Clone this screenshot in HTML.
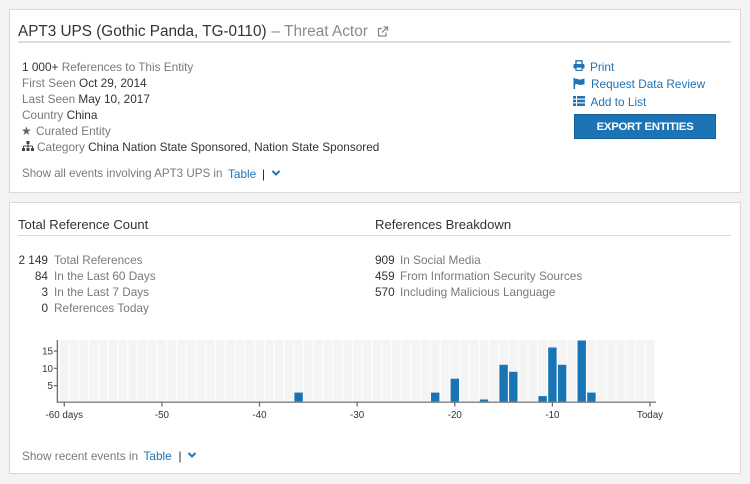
<!DOCTYPE html>
<html><head><meta charset="utf-8">
<style>
html,body{margin:0;padding:0;}
body{width:750px;height:484px;background:#f3f3f3;position:relative;overflow:hidden;font-family:"Liberation Sans",Arial,sans-serif;color:#333;}
.panel{position:absolute;background:#fff;border:1px solid #d9d9d9;box-sizing:border-box;}
.t{position:absolute;white-space:nowrap;font-size:11.8px;line-height:16px;}
.g{color:#7a7a7a;}
.d{color:#333;}
.b{color:#2273b3;}
.line{position:absolute;height:1px;background:#dadada;}
.r{text-align:right;}
</style></head><body>

<div class="panel" style="left:9px;top:9px;width:732px;height:184px;"></div>
<div class="panel" style="left:9px;top:202px;width:732px;height:272px;"></div>

<!-- Title -->
<div class="t d" style="left:18px;top:22.3px;font-size:15.3px;line-height:20px;">APT3 UPS (Gothic Panda, TG-0110)</div>
<div class="t g" style="left:271.5px;top:22.3px;font-size:15.4px;line-height:20px;color:#8a8a8a;">– Threat Actor</div>
<svg style="position:absolute;left:377px;top:26px" width="12" height="11" viewBox="0 0 12 11">
  <path d="M5 2.5H1.5v7.5h7.5V6.5" fill="none" stroke="#8a8a8a" stroke-width="1.3"/>
  <path d="M6.5 1h4v4M10.5 1L5 6.5" fill="none" stroke="#8a8a8a" stroke-width="1.3"/>
</svg>
<div class="line" style="left:18px;top:41px;width:713px;height:1.5px;background:#dedede;"></div>

<!-- Info lines -->
<div class="t" style="left:22px;top:59px;"><span class="d">1 000+</span> <span class="g">References to This Entity</span></div>
<div class="t" style="left:22px;top:75px;"><span class="g">First Seen</span> <span class="d">Oct 29, 2014</span></div>
<div class="t" style="left:22px;top:91px;"><span class="g">Last Seen</span> <span class="d">May 10, 2017</span></div>
<div class="t" style="left:22px;top:107px;"><span class="g">Country</span> <span class="d">China</span></div>
<div class="t g" style="left:21px;top:123px;font-size:12px;color:#666;">★</div>
<div class="t g" style="left:36px;top:123px;">Curated Entity</div>
<svg style="position:absolute;left:22px;top:141px" width="12" height="10" viewBox="0 0 12 10">
  <rect x="4.5" y="0" width="3" height="3" fill="#444"/>
  <path d="M6 3v2M1.5 5h9M1.5 5v2M6 5v2M10.5 5v2" stroke="#444" stroke-width="1" fill="none"/>
  <rect x="0" y="7" width="3" height="3" fill="#444"/>
  <rect x="4.5" y="7" width="3" height="3" fill="#444"/>
  <rect x="9" y="7" width="3" height="3" fill="#444"/>
</svg>
<div class="t" style="left:37px;top:139px;"><span class="g">Category</span> <span class="d">China Nation State Sponsored, Nation State Sponsored</span></div>

<div class="t g" style="left:22px;top:166px;font-size:11.6px;">Show all events involving APT3 UPS in</div>
<div class="t b" style="left:228px;top:166px;">Table</div>
<div class="t d" style="left:262px;top:166px;color:#222;">|</div>
<svg style="position:absolute;left:271px;top:169px" width="10" height="8" viewBox="0 0 10 8">
  <path d="M1.5 2l3.5 3.5L8.5 2" fill="none" stroke="#2273b3" stroke-width="2"/>
</svg>

<!-- Right actions -->
<svg style="position:absolute;left:573px;top:60px" width="12" height="11" viewBox="0 0 12 11">
  <path d="M3 4V0.8h6V4" fill="none" stroke="#2273b3" stroke-width="1.4"/>
  <rect x="0.5" y="4" width="11" height="4.5" rx="1" fill="#2273b3"/>
  <rect x="3" y="7" width="6" height="3.5" fill="#fff" stroke="#2273b3" stroke-width="1.2"/>
</svg>
<div class="t b" style="left:590px;top:58.5px;">Print</div>
<svg style="position:absolute;left:573px;top:78px" width="12" height="11" viewBox="0 0 12 11">
  <rect x="0.5" y="0" width="1.6" height="11" fill="#2273b3"/>
  <path d="M2 1c2-1 3.5 1 5.5 0.5S10 0.5 11.5 0.8V6.5C10 6.2 9.5 7 7.5 7S4 5.5 2 6.5z" fill="#2273b3"/>
</svg>
<div class="t b" style="left:591px;top:76.3px;">Request Data Review</div>
<svg style="position:absolute;left:573px;top:96px" width="12" height="10" viewBox="0 0 12 10">
  <rect x="0" y="0" width="3" height="2.6" fill="#2273b3"/><rect x="4" y="0" width="8" height="2.6" fill="#2273b3"/>
  <rect x="0" y="3.7" width="3" height="2.6" fill="#2273b3"/><rect x="4" y="3.7" width="8" height="2.6" fill="#2273b3"/>
  <rect x="0" y="7.4" width="3" height="2.6" fill="#2273b3"/><rect x="4" y="7.4" width="8" height="2.6" fill="#2273b3"/>
</svg>
<div class="t b" style="left:590.5px;top:94px;">Add to List</div>
<div style="position:absolute;left:574px;top:114px;width:142px;height:25px;box-sizing:border-box;background:#1c74b6;border:1px solid #1a5f94;color:#fff;font-weight:bold;font-size:11.4px;letter-spacing:-0.3px;line-height:25px;text-align:center;">EXPORT ENTITIES</div>

<!-- Panel 2 -->
<div class="t d" style="left:18px;top:217px;font-size:13.1px;">Total Reference Count</div>
<div class="t d" style="left:375px;top:217px;font-size:13.1px;">References Breakdown</div>
<div class="line" style="left:18px;top:235px;width:713px;"></div>

<div class="t d r" style="left:8px;width:40px;top:251.7px;">2 149</div>
<div class="t g" style="left:54px;top:251.7px;">Total References</div>
<div class="t d r" style="left:8px;width:40px;top:267.7px;">84</div>
<div class="t g" style="left:54px;top:267.7px;">In the Last 60 Days</div>
<div class="t d r" style="left:8px;width:40px;top:283.7px;">3</div>
<div class="t g" style="left:54px;top:283.7px;">In the Last 7 Days</div>
<div class="t d r" style="left:8px;width:40px;top:299.5px;">0</div>
<div class="t g" style="left:54px;top:299.5px;">References Today</div>

<div class="t d" style="left:375px;top:251.7px;">909</div>
<div class="t g" style="left:400px;top:251.7px;">In Social Media</div>
<div class="t d" style="left:375px;top:267.7px;">459</div>
<div class="t g" style="left:400px;top:267.7px;">From Information Security Sources</div>
<div class="t d" style="left:375px;top:283.7px;">570</div>
<div class="t g" style="left:400px;top:283.7px;">Including Malicious Language</div>

<!-- Chart -->
<svg style="position:absolute;left:0;top:0" width="750" height="484" viewBox="0 0 750 484">
  <rect x="57.5" y="340" width="597.4" height="61.5" fill="#f4f4f4"/>
  <path stroke="#ffffff" stroke-width="1" fill="none" d="M59.4 340V401.5M69.2 340V401.5M78.9 340V401.5M88.7 340V401.5M98.5 340V401.5M108.2 340V401.5M118.0 340V401.5M127.8 340V401.5M137.5 340V401.5M147.3 340V401.5M157.0 340V401.5M166.8 340V401.5M176.6 340V401.5M186.3 340V401.5M196.1 340V401.5M205.9 340V401.5M215.6 340V401.5M225.4 340V401.5M235.1 340V401.5M244.9 340V401.5M254.7 340V401.5M264.4 340V401.5M274.2 340V401.5M284.0 340V401.5M293.7 340V401.5M303.5 340V401.5M313.2 340V401.5M323.0 340V401.5M332.8 340V401.5M342.5 340V401.5M352.3 340V401.5M362.1 340V401.5M371.8 340V401.5M381.6 340V401.5M391.3 340V401.5M401.1 340V401.5M410.9 340V401.5M420.6 340V401.5M430.4 340V401.5M440.2 340V401.5M449.9 340V401.5M459.7 340V401.5M469.4 340V401.5M479.2 340V401.5M489.0 340V401.5M498.7 340V401.5M508.5 340V401.5M518.3 340V401.5M528.0 340V401.5M537.8 340V401.5M547.5 340V401.5M557.3 340V401.5M567.1 340V401.5M576.8 340V401.5M586.6 340V401.5M596.4 340V401.5M606.1 340V401.5M615.9 340V401.5M625.6 340V401.5M635.4 340V401.5M645.2 340V401.5"/>
  <g fill="#1874b5">
    <rect x="294.4" y="392.6" width="8.4" height="8.9"/>
    <rect x="431.0" y="392.6" width="8.4" height="8.9"/>
    <rect x="450.6" y="378.7" width="8.4" height="22.8"/>
    <rect x="479.8" y="399.5" width="8.4" height="2"/>
    <rect x="499.4" y="364.8" width="8.4" height="36.7"/>
    <rect x="509.1" y="371.8" width="8.4" height="29.7"/>
    <rect x="538.4" y="396.1" width="8.4" height="5.4"/>
    <rect x="548.2" y="347.5" width="8.4" height="54"/>
    <rect x="557.9" y="364.8" width="8.4" height="36.7"/>
    <rect x="577.5" y="340.5" width="8.4" height="61"/>
    <rect x="587.2" y="392.6" width="8.4" height="8.9"/>
  </g>
  <g stroke="#666" stroke-width="1.2" fill="none">
    <path d="M57.3 340V402.2H656"/>
    <path d="M54 351H57.3M54 368.3H57.3M54 385.6H57.3"/>
    <path d="M64.3 402V406.5M161.9 402V406.5M259.5 402V406.5M357.1 402V406.5M454.8 402V406.5M552.4 402V406.5M650 402V406.5"/>
  </g>
  <g font-family="Liberation Sans, Arial, sans-serif" font-size="9.8" fill="#333">
    <text x="53" y="354.5" text-anchor="end">15</text>
    <text x="53" y="371.8" text-anchor="end">10</text>
    <text x="53" y="389.1" text-anchor="end">5</text>
    <text x="64.3" y="417.8" text-anchor="middle">-60 days</text>
    <text x="161.9" y="417.8" text-anchor="middle">-50</text>
    <text x="259.5" y="417.8" text-anchor="middle">-40</text>
    <text x="357.1" y="417.8" text-anchor="middle">-30</text>
    <text x="454.8" y="417.8" text-anchor="middle">-20</text>
    <text x="552.4" y="417.8" text-anchor="middle">-10</text>
    <text x="650" y="417.8" text-anchor="middle">Today</text>
  </g>
</svg>

<div class="t g" style="left:22px;top:447.5px;">Show recent events in</div>
<div class="t b" style="left:143.5px;top:447.5px;">Table</div>
<div class="t d" style="left:178.5px;top:447.5px;color:#222;">|</div>
<svg style="position:absolute;left:187px;top:451px" width="10" height="8" viewBox="0 0 10 8">
  <path d="M1.5 2l3.5 3.5L8.5 2" fill="none" stroke="#2273b3" stroke-width="2"/>
</svg>

</body></html>
